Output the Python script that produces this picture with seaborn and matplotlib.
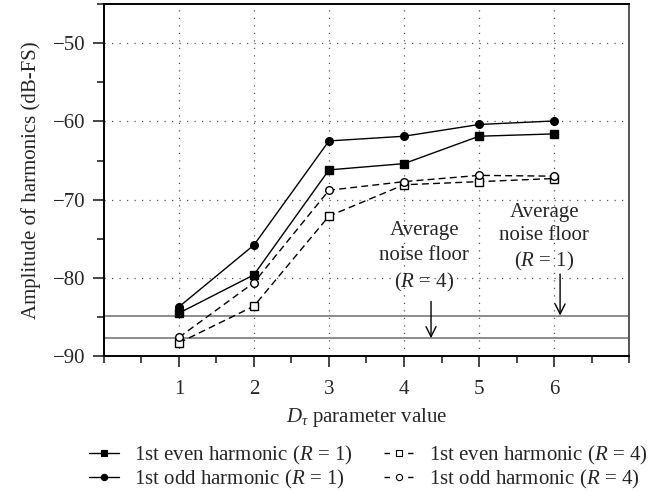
import matplotlib
matplotlib.use("Agg")
import matplotlib.pyplot as plt
import seaborn as sns
import pandas as pd
from matplotlib.lines import Line2D
from matplotlib.ticker import MultipleLocator

x_values = [1, 2, 3, 4, 5, 6]
even_r1 = [-84.5, -79.6, -66.2, -65.4, -61.9, -61.6]
odd_r1 = [-83.7, -75.8, -62.5, -61.9, -60.4, -59.95]
even_r4 = [-88.3, -83.6, -72.1, -68.1, -67.7, -67.3]
odd_r4 = [-87.6, -80.6, -68.8, -67.7, -66.9, -67.0]
series_labels = [
    "1st even harmonic ($R$ = 1)",
    "1st odd harmonic ($R$ = 1)",
    "1st even harmonic ($R$ = 4)",
    "1st odd harmonic ($R$ = 4)",
]
noise_floor_r1 = -84.8
noise_floor_r4 = -87.7

sns.set_style("ticks")
plt.rcParams["font.family"] = ["Liberation Serif", "DejaVu Serif"]
plt.rcParams["mathtext.fontset"] = "custom"
plt.rcParams["mathtext.rm"] = "Liberation Serif"
plt.rcParams["mathtext.it"] = "Liberation Serif:italic"
plt.rcParams["axes.unicode_minus"] = True

FS = 15

fig = plt.figure(figsize=(6.7, 4.92), dpi=100)
ax = fig.add_axes([0.155, 0.276, 0.784, 0.716])

data = pd.DataFrame({
    "x": x_values * 4,
    "y": even_r1 + odd_r1 + even_r4 + odd_r4,
    "series": sum([[s] * 6 for s in series_labels], []),
})

styles = [
    dict(marker="s", mfc="black", ls="-"),
    dict(marker="o", mfc="black", ls="-"),
    dict(marker="s", mfc="white", ls=(0, (5, 3))),
    dict(marker="o", mfc="white", ls=(0, (5, 3))),
]

ax.axhline(noise_floor_r1, color="#8c8c8c", lw=1.4, zorder=1)
ax.axhline(noise_floor_r4, color="#8c8c8c", lw=1.4, zorder=1)

handles = []
for lab, st in zip(series_labels, styles):
    sub = data[data["series"] == lab]
    sns.lineplot(data=sub, x="x", y="y", ax=ax, color="black", lw=1.0,
                 linestyle=st["ls"], marker=st["marker"], markersize=5.5,
                 markerfacecolor=st["mfc"], markeredgecolor="black",
                 markeredgewidth=1.0, legend=False, zorder=3)
    handles.append(Line2D([], [], color="black", lw=1.0,
                          linestyle=st["ls"] if st["ls"] == "-" else (0, (4, 13)),
                          marker=st["marker"], markersize=4.5,
                          markerfacecolor=st["mfc"], markeredgecolor="black",
                          markeredgewidth=0.8))

ax.set_xlim(0, 7)
ax.set_ylim(-90, -45)
ax.xaxis.set_major_locator(MultipleLocator(1))
ax.xaxis.set_minor_locator(MultipleLocator(0.5))
ax.yaxis.set_major_locator(MultipleLocator(10))
ax.yaxis.set_minor_locator(MultipleLocator(5))
ax.set_xticks([1, 2, 3, 4, 5, 6])
ax.set_xticklabels(["1", "2", "3", "4", "5", "6"])
ax.grid(True, which="major", color="#555555", linestyle=(0, (1, 5)), lw=0.9)
ax.tick_params(axis="both", which="major", direction="out", length=8, width=1.2,
               labelsize=FS)
ax.tick_params(axis="x", which="major", pad=9)
ax.tick_params(axis="y", which="major", pad=5)
ax.tick_params(axis="both", which="minor", direction="out", length=5, width=1.2)
for s in ["left", "bottom", "top"]:
    ax.spines[s].set_linewidth(1.4)
    ax.spines[s].set_color("black")
ax.spines["right"].set_linewidth(1.4)
ax.spines["right"].set_color("#555555")

ax.set_xlabel(r"$D_{\tau}$ parameter value", fontsize=FS, labelpad=5)
ax.set_ylabel("Amplitude of harmonics (dB-FS)", fontsize=FS, labelpad=9)

ax.text(4.27, -77.4, "Average\nnoise floor\n($R$ = 4)", ha="center", va="center",
        fontsize=FS, linespacing=1.4)
ax.annotate("", xy=(4.36, noise_floor_r4), xytext=(4.36, -83.0),
            arrowprops=dict(arrowstyle="->", color="black", lw=1.0,
                            mutation_scale=18, shrinkA=0, shrinkB=0))
ax.text(5.87, -74.9, "Average\nnoise floor\n($R$ = 1)", ha="center", va="center",
        fontsize=FS, linespacing=1.3)
ax.annotate("", xy=(6.08, noise_floor_r1), xytext=(6.08, -79.5),
            arrowprops=dict(arrowstyle="->", color="black", lw=1.0,
                            mutation_scale=18, shrinkA=0, shrinkB=0))

fig.legend(handles, series_labels, loc="center", bbox_to_anchor=(0.55, 0.05),
           ncol=2, frameon=False, fontsize=FS, handlelength=1.4,
           handletextpad=0.75, columnspacing=1.5, labelspacing=0.05)

fig.savefig("out.png", dpi=100)
